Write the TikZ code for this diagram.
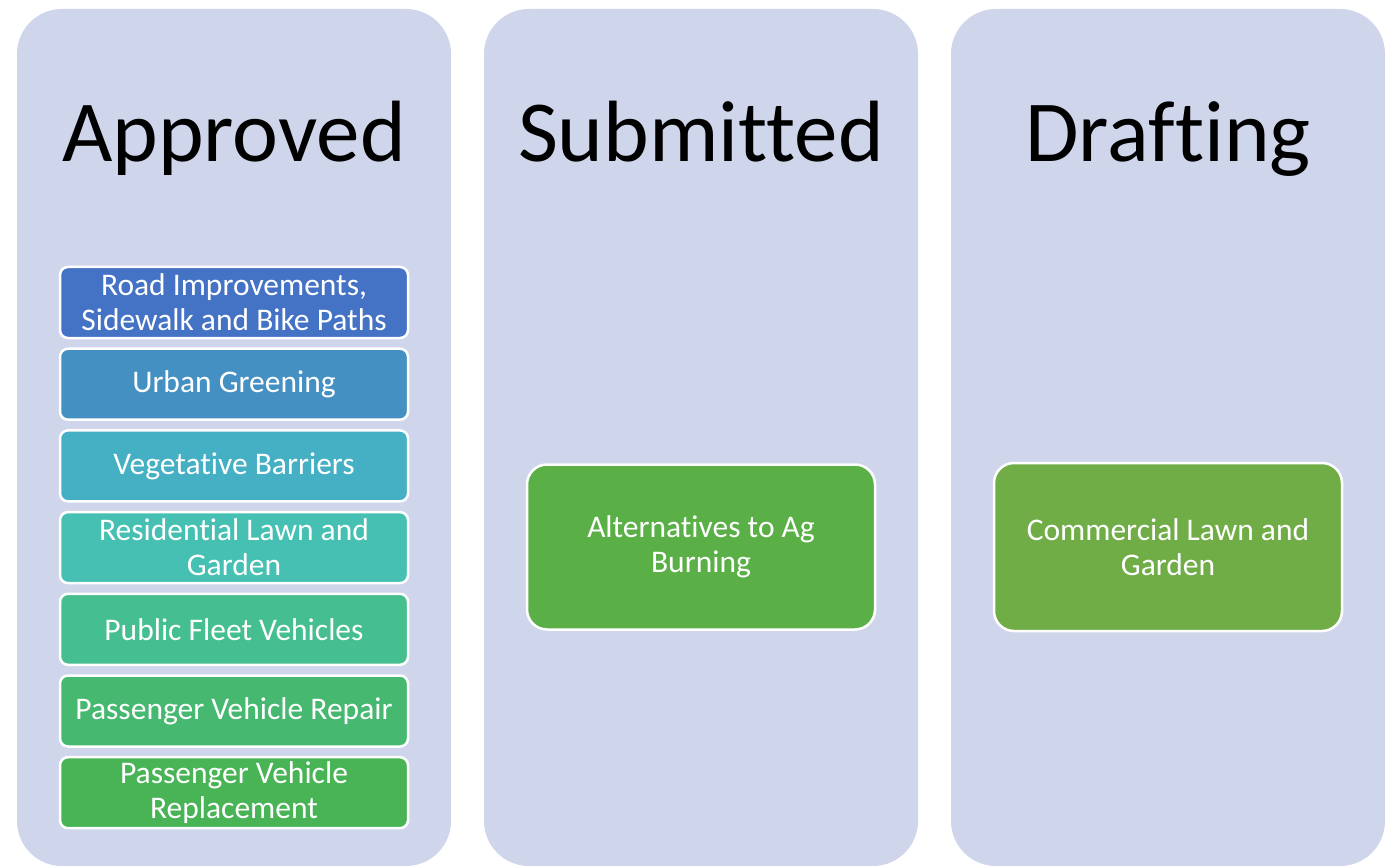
\documentclass[tikz,border=0pt]{standalone}
\usepackage{fontspec}
\setmainfont[Ligatures=NoCommon]{Carlito}
\usetikzlibrary{positioning,calc}

\definecolor{lane}{HTML}{CFD5EA}
\definecolor{itemA}{HTML}{4472C4}
\definecolor{itemB}{HTML}{4590C3}
\definecolor{itemC}{HTML}{45AFC3}
\definecolor{itemD}{HTML}{45C0B2}
\definecolor{itemE}{HTML}{45BF8F}
\definecolor{itemF}{HTML}{46B870}
\definecolor{itemG}{HTML}{48B455}
\definecolor{subgreen}{HTML}{5AB046}
\definecolor{draftgreen}{HTML}{70AD47}

\begin{document}
\begin{tikzpicture}[
    x=1pt,
    y=1pt,
    node distance=8.2pt,
    lane/.style={
        rectangle,
        fill=lane,
        rounded corners=45pt,
        minimum width=434pt,
        minimum height=857pt
    },
    heading/.style={
        anchor=base,
        font=\fontsize{87}{100}\selectfont
    },
    item/.style={
        rectangle,
        draw=white,
        line width=2.5pt,
        text=white,
        rounded corners=8pt,
        minimum width=348pt,
        minimum height=71pt,
        inner sep=0pt,
        align=center,
        font=\fontsize{31.5}{35}\selectfont
    },
    bigitem/.style={
        item,
        rounded corners=20pt,
        minimum height=165pt
    }
]
\useasboundingbox (0,0) rectangle (1388,-866);

% Lanes
\node [lane] (approved) at (234,-437.5) {};
\node [lane] (submitted) at (701,-437.5) {};
\node [lane] (drafting) at (1168,-437.5) {};

% Headings
\node [heading] (approvedtitle) at ($(approved.north)+(0,-153)$) {Approved};
\node [heading] (submittedtitle) at ($(submitted.north)+(0,-153)$) {Submitted};
\node [heading] (draftingtitle) at ($(drafting.north)+(0,-153)$) {Drafting};

% Approved items
\node [item, fill=itemA] (road) at (234,-302.5) {Road Improvements,\\Sidewalk and Bike Paths};
\node [item, fill=itemB, below=of road] (urban) {Urban Greening};
\node [item, fill=itemC, below=of urban] (barriers) {Vegetative Barriers};
\node [item, fill=itemD, below=of barriers] (lawn) {Residential Lawn and\\Garden};
\node [item, fill=itemE, below=of lawn] (fleet) {Public Fleet Vehicles};
\node [item, fill=itemF, below=of fleet] (repair) {Passenger Vehicle Repair};
\node [item, fill=itemG, below=of repair] (replace) {Passenger Vehicle\\Replacement};

% Submitted and drafting items
\node [bigitem, fill=subgreen] (burning) at (701,-547) {Alternatives to Ag\\Burning};
\node [bigitem, fill=draftgreen, minimum height=168pt] (commercial) at (1168,-547) {Commercial Lawn and\\Garden};

\end{tikzpicture}
\end{document}
